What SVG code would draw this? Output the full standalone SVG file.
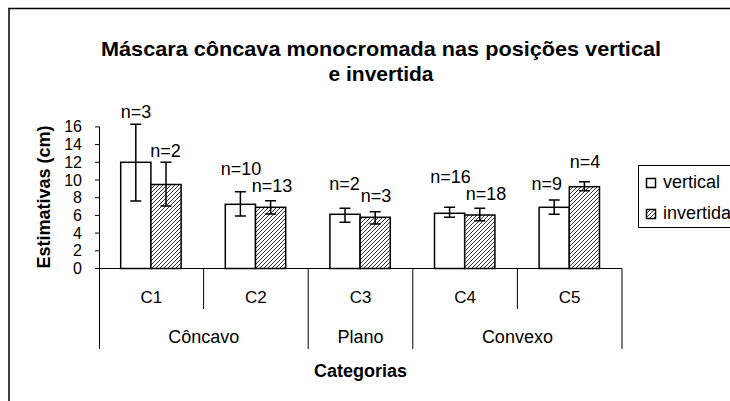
<svg xmlns="http://www.w3.org/2000/svg" width="730" height="401" viewBox="0 0 730 401">
<defs>
<pattern id="hatch" patternUnits="userSpaceOnUse" width="4" height="4">
<rect width="4" height="4" fill="#fff"/>
<path d="M-1,1 l2,-2 M0,4 l4,-4 M3,5 l2,-2" stroke="#333" stroke-width="1"/>
</pattern>
<style>
text{font-family:"Liberation Sans",Arial,sans-serif;fill:#000}
.t{font-weight:bold;font-size:21px;text-anchor:middle}
.ax{font-weight:bold;font-size:18px;text-anchor:middle}
.tk{font-size:16px;text-anchor:end}
.cat{font-size:17px;text-anchor:middle}
.grp{font-size:18px;text-anchor:middle}
.n{font-size:18px;text-anchor:middle}
.lg{font-size:18px}
.line{stroke:#000;stroke-width:1;fill:none}
.bar{stroke:#000;stroke-width:1.5}
.v{fill:#fff}
.i{fill:url(#hatch)}
.err{stroke:#000;stroke-width:1.5;fill:none}
</style>
</defs>
<rect x="0" y="0" width="730" height="401" fill="#fff"/>
<rect x="9" y="8.5" width="800" height="500" fill="none" stroke="#000" stroke-width="1.5"/>
<g id="title">
<text class="t" x="381" y="56" textLength="560" lengthAdjust="spacingAndGlyphs">Máscara côncava monocromada nas posições vertical</text>
<text class="t" x="381" y="81">e invertida</text>
</g>
<g id="y-axis">
<text class="ax" transform="translate(49.5,197) rotate(-90)">Estimativas (cm)</text>
<path class="line" d="M99.5,126.7 V268.5 M95,268.5 H99.5 M95,250.8 H99.5 M95,233.1 H99.5 M95,215.4 H99.5 M95,197.7 H99.5 M95,180 H99.5 M95,162.3 H99.5 M95,144.6 H99.5 M95,126.9 H99.5"/>
<text class="tk" x="82" y="274">0</text>
<text class="tk" x="82" y="256.3">2</text>
<text class="tk" x="82" y="238.6">4</text>
<text class="tk" x="82" y="220.9">6</text>
<text class="tk" x="82" y="203.2">8</text>
<text class="tk" x="82" y="185.5">10</text>
<text class="tk" x="82" y="167.8">12</text>
<text class="tk" x="82" y="150.1">14</text>
<text class="tk" x="82" y="132.4">16</text>
</g>
<g id="x-axis">
<path class="line" d="M99.5,268.5 H622 M99.5,268.5 V349 M203.6,268.5 V309 M308.2,268.5 V349 M412.8,268.5 V349 M517.4,268.5 V309 M622,268.5 V349"/>
<text class="cat" x="151.3" y="303">C1</text>
<text class="cat" x="255.9" y="303">C2</text>
<text class="cat" x="360.5" y="303">C3</text>
<text class="cat" x="465.1" y="303">C4</text>
<text class="cat" x="569.7" y="303">C5</text>
<text class="grp" x="203.7" y="343">Côncavo</text>
<text class="grp" x="360.5" y="343">Plano</text>
<text class="grp" x="517.4" y="343">Convexo</text>
<text class="ax" x="360.5" y="377">Categorias</text>
</g>
<g id="C1">
<rect class="bar v" x="120.7" y="162.3" width="30.2" height="106.2"/>
<rect class="bar i" x="150.9" y="184.5" width="30.2" height="84"/>
<text class="n" x="136" y="118">n=3</text>
<text class="n" x="165.5" y="156.7">n=2</text>
</g>
<g id="C2">
<rect class="bar v" x="225.3" y="204.3" width="30.2" height="64.2"/>
<rect class="bar i" x="255.5" y="207.3" width="30.2" height="61.2"/>
<text class="n" x="241" y="175">n=10</text>
<text class="n" x="272" y="191.7">n=13</text>
</g>
<g id="C3">
<rect class="bar v" x="329.9" y="214.3" width="30.2" height="54.2"/>
<rect class="bar i" x="360.1" y="217.3" width="30.2" height="51.2"/>
<text class="n" x="344.5" y="190">n=2</text>
<text class="n" x="376" y="201.7">n=3</text>
</g>
<g id="C4">
<rect class="bar v" x="434.5" y="213.3" width="30.2" height="55.2"/>
<rect class="bar i" x="464.7" y="215" width="30.2" height="53.5"/>
<text class="n" x="450.5" y="183.3">n=16</text>
<text class="n" x="486" y="200">n=18</text>
</g>
<g id="C5">
<rect class="bar v" x="539.1" y="207.3" width="30.2" height="61.2"/>
<rect class="bar i" x="569.3" y="186.7" width="30.2" height="81.8"/>
<text class="n" x="546.7" y="190">n=9</text>
<text class="n" x="585" y="168.3">n=4</text>
</g>
<g id="error-bars">
<path class="err" d="M135.8,124.3 V201 M130.3,124.3 H141.3 M130.3,201 H141.3"/>
<path class="err" d="M166,162.3 V206 M160.5,162.3 H171.5 M160.5,206 H171.5"/>
<path class="err" d="M240.4,191.7 V216 M234.9,191.7 H245.9 M234.9,216 H245.9"/>
<path class="err" d="M270.6,200.7 V214 M265.1,200.7 H276.1 M265.1,214 H276.1"/>
<path class="err" d="M345,208.3 V222.3 M339.5,208.3 H350.5 M339.5,222.3 H350.5"/>
<path class="err" d="M375.2,211.7 V224 M369.7,211.7 H380.7 M369.7,224 H380.7"/>
<path class="err" d="M449.6,207.3 V217.3 M444.1,207.3 H455.1 M444.1,217.3 H455.1"/>
<path class="err" d="M479.8,208.3 V220.7 M474.3,208.3 H485.3 M474.3,220.7 H485.3"/>
<path class="err" d="M554.2,200 V214.3 M548.7,200 H559.7 M548.7,214.3 H559.7"/>
<path class="err" d="M584.4,181.7 V190.7 M578.9,181.7 H589.9 M578.9,190.7 H589.9"/>
</g>
<g id="legend">
<rect x="638.5" y="165.5" width="120" height="62" fill="#fff" stroke="#000" stroke-width="1"/>
<rect class="bar v" x="646.5" y="178.5" width="9" height="9"/>
<text class="lg" x="663" y="188">vertical</text>
<rect class="bar i" x="646.5" y="209.5" width="9" height="9"/>
<text class="lg" x="663" y="218.5">invertida</text>
</g>
</svg>
